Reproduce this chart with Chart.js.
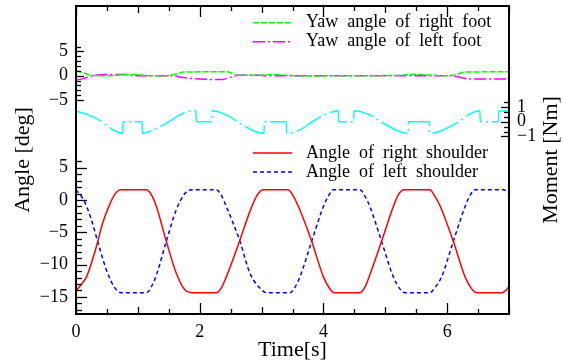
<!DOCTYPE html>
<html><head><meta charset="utf-8">
<script src="https://cdn.jsdelivr.net/npm/chart.js@4/dist/chart.umd.min.js"></script>
<style>html,body{margin:0;padding:0;background:#fff}canvas{display:block}</style>
</head><body>
<canvas id="c" width="563" height="364"></canvas>
<script>
// ---- data ----
const tRightShoulder = [0,0.1,0.17,0.33,0.43,0.54,0.63,0.72,1.14,1.22,1.30,1.46,1.62,1.76,1.89,2.27,2.35,2.43,2.65,2.81,2.92,3.02,3.43,3.52,3.62,3.81,4.00,4.10,4.18,4.59,4.67,4.75,4.94,5.13,5.21,5.30,5.72,5.80,5.89,6.10,6.29,6.40,6.48,6.89,6.95,7.00];
const angleRightShoulder = [-14.1,-12.9,-11.9,-7.2,-3.6,-0.8,0.9,1.6,1.6,0.8,-1.0,-6.4,-11.3,-13.9,-14.35,-14.35,-13.6,-11.9,-6.2,-1.8,0.6,1.6,1.6,0.5,-1.55,-6.4,-11.9,-13.7,-14.35,-14.35,-13.5,-11.6,-6.4,-1.0,0.8,1.6,1.6,0.6,-1.0,-6.4,-11.9,-13.8,-14.35,-14.35,-14.0,-13.4];

const tLeftShoulder = [0,0.06,0.14,0.25,0.35,0.49,0.62,0.73,1.14,1.22,1.30,1.46,1.62,1.76,1.87,2.27,2.35,2.43,2.65,2.81,3.00,3.08,3.46,3.54,3.62,3.81,4.00,4.08,4.16,4.59,4.67,4.75,4.94,5.13,5.24,5.32,5.72,5.80,5.91,6.10,6.29,6.37,6.45,6.91,7.00];
const angleLeftShoulder = [1.55,0.9,-0.3,-3.1,-6.4,-10.8,-13.5,-14.35,-14.35,-13.4,-11.6,-6.4,-1.55,1.0,1.6,1.6,0.7,-1.0,-6.4,-11.3,-13.9,-14.35,-14.35,-13.5,-11.9,-6.4,-1.0,0.6,1.6,1.6,0.6,-1.0,-6.4,-11.9,-13.8,-14.35,-14.35,-13.6,-11.9,-6.4,-1.0,0.7,1.6,1.6,1.0];

const tRightFoot = [0,0.1,0.22,0.33,0.6,0.8,0.97,1.15,1.45,1.6,1.75,2.45,2.6,2.9,3.2,3.45,3.67,4.5,5.2,5.5,5.75,5.94,6.1,6.3,7.0];
const yawRightFoot = [1.0,0.7,0.15,0.0,0.0,0.25,0.25,0.0,0.0,0.3,0.75,0.8,0.1,0.1,0.25,0.05,-0.05,0.0,0.05,0.3,0.1,0.0,0.1,0.75,0.8];

const tLeftFoot = [0,0.12,0.27,0.6,0.76,0.95,1.55,1.7,1.85,2.1,2.35,2.5,2.62,2.85,3.05,6.05,6.2,6.37,7.0];
const yawLeftFoot = [-0.9,-0.6,0.0,0.25,0.25,0.0,0.0,-0.3,-0.55,-0.75,-0.8,-0.3,0.1,0.15,0.0,0.0,-0.3,-0.7,-0.7];

const tMoment = [0,0.16,0.33,0.49,0.62,0.755,0.76,1.07,1.075,1.24,1.46,1.68,1.84,1.94,1.945,2.2,2.205,2.43,2.65,2.86,3.04,3.045,3.4,3.405,3.62,3.83,4.05,4.24,4.245,4.49,4.495,4.75,4.97,5.19,5.37,5.375,5.71,5.715,5.94,6.16,6.37,6.53,6.535,6.83,6.835,7.0];
const moment = [0.73,0.52,0.23,-0.22,-0.6,-0.79,0,0,-0.79,-0.56,-0.11,0.46,0.73,0.75,0,0,0.75,0.46,-0.11,-0.6,-0.79,0,0,-0.79,-0.56,0.03,0.53,0.75,0,0,0.75,0.46,-0.11,-0.6,-0.79,0,0,-0.79,-0.56,-0.07,0.53,0.75,0,0,0.73,0.73];

const xTickValues = [0,2,4,6];
const shoulderTickValues = [5,0,-5,-10,-15];
const yawTickValues = [5,0,-5];
const momentTickValues = [1,0,-1];

const seriesLabels = ['Yaw angle of right foot','Yaw angle of left foot','Angle of right shoulder','Angle of left shoulder','Moment'];
const xTitle = 'Time[s]';
const leftTitle = 'Angle [deg]';
const rightTitle = 'Moment [Nm]';

// ---- helpers ----
const zip = (t, v) => t.map((x, i) => ({x, y: v[i]}));
const fmt = v => (v < 0 ? '\u2212' + Math.abs(v) : String(v));
const FONT = 'Liberation Serif, Times New Roman, serif';
const tickFont = {family: FONT, size: 18};
const noPad = s => { s.paddingTop = 0; s.paddingBottom = 0; s.paddingLeft = 0; s.paddingRight = 0; };

const framePlugin = {
  id: 'frame',
  afterDatasetsDraw(chart) {
    const {ctx, chartArea: a, scales} = chart;
    ctx.save();
    ctx.strokeStyle = '#000';
    ctx.lineWidth = 1.3;
    ctx.setLineDash([]);
    const line = (x1, y1, x2, y2) => { ctx.beginPath(); ctx.moveTo(x1, y1); ctx.lineTo(x2, y2); ctx.stroke(); };
    const sx = scales.x;
    for (let k = 0; k <= 14; k++) {
      const px = Math.round(sx.getPixelForValue(k * 0.5)) + 0.5;
      const len = k % 4 === 0 ? 11 : (k % 2 === 0 ? 7 : 5);
      line(px, a.bottom, px, a.bottom - len);
      line(px, a.top, px, a.top + len);
    }
    const ys = scales.yS;
    for (let v = -17; v <= 6; v++) {
      const py = Math.round(ys.getPixelForValue(v)) + 0.5;
      line(a.left, py, a.left + (v % 5 === 0 ? 11 : 6), py);
    }
    const yy = scales.yY;
    for (let v = -5; v <= 6; v++) {
      const py = Math.round(yy.getPixelForValue(v)) + 0.5;
      line(a.left, py, a.left + (v % 5 === 0 ? 8 : 5), py);
    }
    const ym = scales.yM;
    for (let k = -3; k <= 4; k++) {
      const py = Math.round(ym.getPixelForValue(k / 3)) + 0.5;
      line(a.right, py, a.right - (k % 3 === 0 ? 8 : 5), py);
    }
    ctx.lineWidth = 2;
    ctx.strokeRect(a.left, a.top, a.right - a.left, a.bottom - a.top);
    ctx.restore();
  }
};

const legendPlugin = {
  id: 'twoLegends',
  afterDraw(chart) {
    const {ctx, chartArea: a} = chart;
    const rows = [[0, 16.7], [1, 35.7], [2, 147], [3, 166]];
    ctx.save();
    ctx.font = '18px ' + FONT;
    ctx.textBaseline = 'middle';
    ctx.textAlign = 'left';
    rows.forEach(([i, dy]) => {
      const ds = chart.data.datasets[i];
      const y = a.top + dy;
      ctx.strokeStyle = ds.borderColor;
      ctx.lineWidth = ds.borderWidth;
      ctx.setLineDash(ds.borderDash || []);
      ctx.beginPath(); ctx.moveTo(a.left + 177, y); ctx.lineTo(a.left + 216, y); ctx.stroke();
      ctx.setLineDash([]);
      ctx.fillStyle = '#000';
      ctx.fillText(ds.label.split(' ').join('  '), a.left + 230, y);
    });
    // tick labels of the yaw (upper) angle scale, sharing the left column
    const yy = chart.scales.yY;
    ctx.textAlign = 'right';
    yawTickValues.forEach(v => ctx.fillText(fmt(v), a.left - 8, yy.getPixelForValue(v)));
    // right axis title, reading bottom-to-top
    const ym = chart.scales.yM;
    ctx.font = '22px ' + FONT;
    ctx.textAlign = 'center';
    ctx.translate(ym.right - 12, (a.top + a.bottom) / 2);
    ctx.rotate(-Math.PI / 2);
    ctx.fillText(rightTitle, 0, 0);
    ctx.restore();
  }
};

const common = {pointRadius: 0, borderWidth: 1.5, fill: false, cubicInterpolationMode: 'monotone'};

new Chart(document.getElementById('c'), {
  type: 'line',
  data: {
    datasets: [
      {...common, label: seriesLabels[0], data: zip(tRightFoot, yawRightFoot), yAxisID: 'yY', borderColor: '#00ff00', borderDash: [6, 2]},
      {...common, label: seriesLabels[1], data: zip(tLeftFoot, yawLeftFoot), yAxisID: 'yY', borderColor: '#ff00ff', borderDash: [12, 3, 2, 3]},
      {...common, label: seriesLabels[2], data: zip(tRightShoulder, angleRightShoulder), yAxisID: 'yS', borderColor: '#ff0000'},
      {...common, label: seriesLabels[3], data: zip(tLeftShoulder, angleLeftShoulder), yAxisID: 'yS', borderColor: '#0000ff', borderDash: [4, 3]},
      {...common, label: seriesLabels[4], data: zip(tMoment, moment), yAxisID: 'yM', borderColor: '#00ffff', borderDash: [28, 4, 2, 4]}
    ]
  },
  options: {
    responsive: false,
    animation: false,
    devicePixelRatio: 1,
    layout: {padding: {top: 6, left: 0, right: 0, bottom: 0}, autoPadding: false},
    plugins: {legend: {display: false}, tooltip: {enabled: false}},
    scales: {
      x: {
        type: 'linear', position: 'bottom', min: 0, max: 7,
        afterBuildTicks: s => { s.ticks = xTickValues.map(v => ({value: v})); },
        afterFit: s => { s.height = 50; noPad(s); },
        grid: {display: false, drawTicks: false}, border: {display: false},
        ticks: {font: tickFont, color: '#000', padding: 7, maxRotation: 0, autoSkip: false, callback: v => fmt(v)},
        title: {display: true, text: xTitle, font: {family: FONT, size: 22}, color: '#000', padding: {top: 0, bottom: 1}}
      },
      yS: {
        type: 'linear', position: 'left', weight: 1, min: -17.65, max: 30.03,
        afterBuildTicks: s => { s.ticks = shoulderTickValues.map(v => ({value: v})); },
        afterFit: s => { s.width = 76; noPad(s); },
        grid: {display: false, drawTicks: false}, border: {display: false},
        ticks: {font: tickFont, color: '#000', padding: 8, autoSkip: false, callback: v => fmt(v)},
        title: {display: true, text: leftTitle, font: {family: FONT, size: 22}, color: '#000', padding: {top: 10, bottom: 0}}
      },
      yY: {
        type: 'linear', position: 'left', display: false, min: -49.03, max: 14.34
      },
      yM: {
        type: 'linear', position: 'right', min: -13.08, max: 7.87,
        afterBuildTicks: s => { s.ticks = momentTickValues.map(v => ({value: v})); },
        afterFit: s => { s.width = 54; noPad(s); },
        grid: {display: false, drawTicks: false}, border: {display: false},
        ticks: {font: tickFont, color: '#000', padding: 8, autoSkip: false, callback: v => fmt(v)}
      }
    }
  },
  plugins: [framePlugin, legendPlugin]
});
</script>
</body></html>
